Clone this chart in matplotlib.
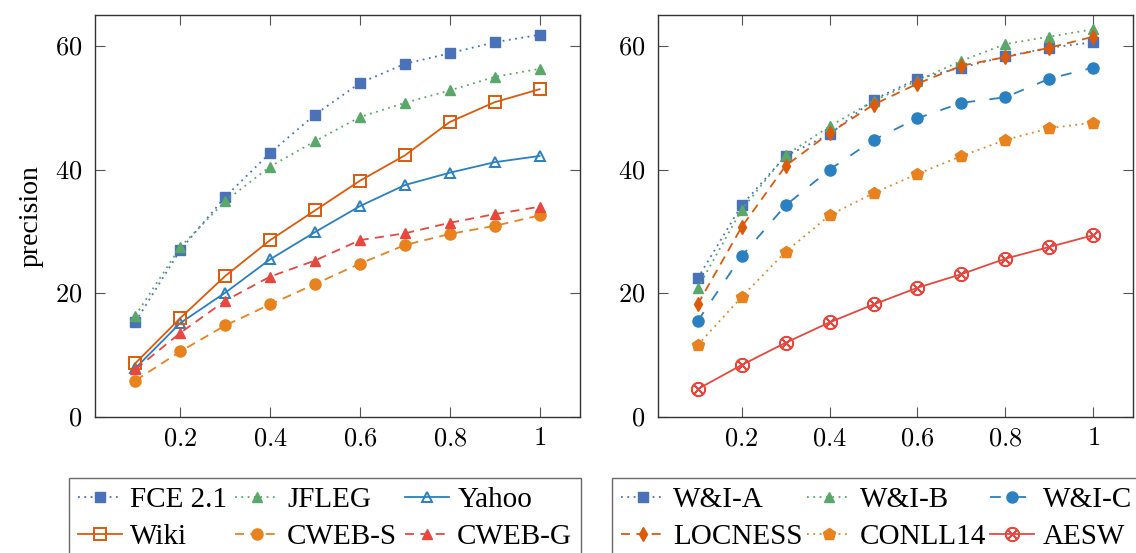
import matplotlib
matplotlib.use("Agg")
import matplotlib.pyplot as plt

plt.rcParams['font.family'] = ['Liberation Serif', 'DejaVu Serif']
plt.rcParams['mathtext.fontset'] = 'cm'

x = [0.1, 0.2, 0.3, 0.4, 0.5, 0.6, 0.7, 0.8, 0.9, 1.0]

# left panel
fce = [15.4, 27.0, 35.6, 42.7, 48.9, 54.0, 57.1, 58.8, 60.6, 61.8]
jfleg = [16.4, 27.5, 34.9, 40.5, 44.6, 48.5, 50.8, 52.8, 55.0, 56.3]
yahoo = [7.9, 15.2, 20.1, 25.5, 29.9, 34.1, 37.5, 39.5, 41.2, 42.2]
wiki = [8.7, 16.0, 22.8, 28.6, 33.4, 38.2, 42.3, 47.7, 50.9, 53.0]
cweb_s = [5.9, 10.6, 14.8, 18.2, 21.5, 24.8, 27.8, 29.6, 30.9, 32.6]
cweb_g = [7.7, 13.6, 18.8, 22.7, 25.3, 28.6, 29.7, 31.4, 32.8, 34.0]

# right panel
wi_a = [22.4, 34.2, 42.2, 45.7, 51.3, 54.7, 56.5, 58.3, 59.7, 60.6]
wi_b = [20.8, 33.5, 42.3, 47.0, 51.1, 54.4, 57.6, 60.3, 61.5, 62.7]
wi_c = [15.5, 26.0, 34.2, 40.0, 44.8, 48.3, 50.8, 51.7, 54.7, 56.5]
locness = [18.2, 30.7, 40.6, 45.9, 50.5, 53.9, 56.8, 58.2, 59.7, 61.5]
conll14 = [11.6, 19.4, 26.7, 32.6, 36.2, 39.3, 42.2, 44.8, 46.7, 47.6]
aesw = [4.5, 8.4, 12.0, 15.3, 18.2, 20.9, 23.1, 25.6, 27.5, 29.4]

xticks = [0.2, 0.4, 0.6, 0.8, 1.0]
xticklabels = ['$0.2$', '$0.4$', '$0.6$', '$0.8$', '$1$']
yticks = [0, 20, 40, 60]
yticklabels = ['$0$', '$20$', '$40$', '$60$']

c_blue1 = '#4a72b8'
c_green = '#59a86a'
c_blue2 = '#2a80c0'
c_orange1 = '#dc5a0b'
c_orange2 = '#e8821e'
c_red = '#e8473e'

W, H = 1136, 553
fig = plt.figure(figsize=(W / 100, H / 100), dpi=100)
ax1 = fig.add_axes([95 / W, (H - 417) / H, 485 / W, 402 / H])
ax2 = fig.add_axes([658 / W, (H - 417) / H, 475 / W, 402 / H])

lw = 1.3
dot = (0, (1, 2.5))
dash = (0, (5, 3.5))
ax1.plot(x, fce, ls=dot, color=c_blue1, marker='s', ms=7.5, lw=lw, label='FCE 2.1')
ax1.plot(x, jfleg, ls=dot, color=c_green, marker='^', ms=6.5, lw=lw, label='JFLEG')
ax1.plot(x, yahoo, ls='-', color=c_blue2, marker='^', ms=7.5, mfc='none', mew=1.4, lw=lw, label='Yahoo')
ax1.plot(x, wiki, ls='-', color=c_orange1, marker='s', ms=8, mfc='none', mew=1.4, lw=lw, label='Wiki')
ax1.plot(x, cweb_s, ls=dash, color=c_orange2, marker='o', ms=8, lw=lw, label='CWEB-S')
ax1.plot(x, cweb_g, ls=dash, color=c_red, marker='^', ms=6.5, lw=lw, label='CWEB-G')

ax2.plot(x, wi_a, ls=dot, color=c_blue1, marker='s', ms=7.5, lw=lw, label='W&I-A')
ax2.plot(x, wi_b, ls=dot, color=c_green, marker='^', ms=6.5, lw=lw, label='W&I-B')
ax2.plot(x, wi_c, ls=(0, (6, 8)), color=c_blue2, marker='o', ms=8, lw=lw, label='W&I-C')
ax2.plot(x, locness, ls=dash, color=c_orange1, marker='d', ms=7.5, lw=lw, label='LOCNESS')
ax2.plot(x, conll14, ls=dot, color=c_orange2, marker='p', ms=9, lw=lw, label='CONLL14')
ax2.plot(x, aesw, ls='-', color=c_red, marker='$\\otimes$', ms=10, lw=lw, label='AESW')

for ax in (ax1, ax2):
    ax.set_xlim(0.01, 1.09)
    ax.set_ylim(0, 65)
    ax.set_xticks(xticks)
    ax.set_xticklabels(xticklabels)
    ax.set_yticks(yticks)
    ax.set_yticklabels(yticklabels)
    ax.tick_params(direction='in', top=True, right=True, length=7, width=0.8,
                   labelsize=19, color='#555555')
    ax.tick_params(axis='y', pad=9)
    ax.tick_params(axis='x', pad=8)
    for s in ax.spines.values():
        s.set_linewidth(1.0)
        s.set_color('#333333')

ax1.set_ylabel('precision', fontsize=20, labelpad=8)


def row_major(ax):
    # legend fills columns first; reorder so rows read like the original
    h, l = ax.get_legend_handles_labels()
    order = [0, 3, 1, 4, 2, 5]
    return [h[i] for i in order], [l[i] for i in order]


leg_kw = dict(ncol=3, fontsize=21, frameon=True, fancybox=False, edgecolor='#444444',
              handlelength=1.5, handletextpad=0.3, labelspacing=0.35,
              borderpad=0.3, borderaxespad=0, loc='upper left')
l1 = fig.legend(*row_major(ax1), columnspacing=0.2, mode='expand',
                bbox_to_anchor=(69 / W, 1 - 478 / H - 0.01, 512 / W, 0.01), **leg_kw)
l2 = fig.legend(*row_major(ax2), columnspacing=0.15,
                bbox_to_anchor=(612 / W, 1 - 478 / H), **leg_kw)
for l in (l1, l2):
    l.get_frame().set_linewidth(1.0)

fig.savefig('out.png', dpi=100)
